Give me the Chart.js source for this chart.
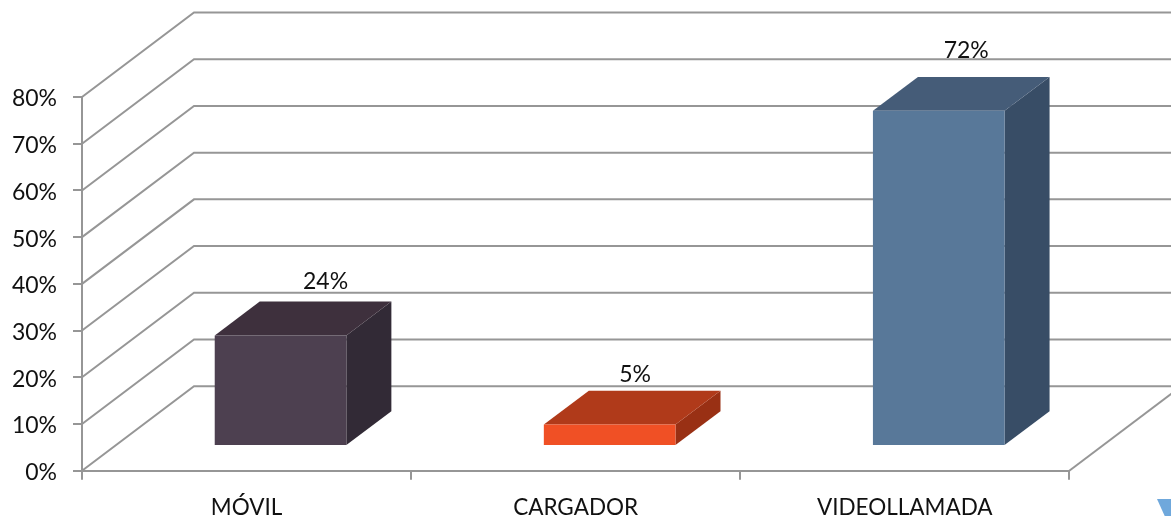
<!DOCTYPE html>
<html><head><meta charset="utf-8">
<style>
html,body{margin:0;padding:0;background:#fff;overflow:hidden}
#wrap{position:relative;width:1171px;height:516px}
canvas{display:block}
#mark{position:absolute;left:1157px;top:499px;width:14px;height:17px;background:#6fa8dc;clip-path:polygon(0 0,100% 0,100% 100%,55% 100%)}
</style>
<script src="https://cdn.jsdelivr.net/npm/chart.js@4/dist/chart.umd.min.js"></script>
</head><body>
<div id="wrap"><canvas id="c" width="1171" height="516"></canvas><div id="mark"></div></div>
<script>
const categories = ['MÓVIL','CARGADOR','VIDEOLLAMADA'];
const values = [23.7, 4.6, 71.8];
const frontColors = ['#4d4050','#f05025','#587899'];
const topColors = ['#3e303d','#b03a1a','#455c78'];
const sideColors = ['#322a36','#993014','#384d66'];
const yTicks = [0,10,20,30,40,50,60,70,80];

const GRID = '#969696', TEXT = '#111', FONT = 'Lato';
const wall = {dx:112, dy:-84.5};
const shift = {dx:34, dy:-24.6};
const depth = {dx:45, dy:-33.8};
const labelOffset = [{dx:45,dy:-20},{dx:25.5,dy:-16},{dx:27.5,dy:-26}];

function poly(ctx, pts, fill){
  ctx.beginPath();
  pts.forEach((p,i)=> i? ctx.lineTo(p[0],p[1]) : ctx.moveTo(p[0],p[1]));
  ctx.closePath();
  ctx.fillStyle = fill;
  ctx.fill();
}
const box3d = {
  id:'box3d',
  beforeDatasetsDraw(chart){
    const {ctx, scales:{x,y}, chartArea:a} = chart;
    ctx.save();
    ctx.strokeStyle = GRID;
    ctx.lineWidth = 2;
    yTicks.forEach(v=>{
      const py = y.getPixelForValue(v);
      ctx.beginPath();
      ctx.moveTo(a.left, py);
      ctx.lineTo(a.left+wall.dx, py+wall.dy);
      ctx.lineTo(chart.width+2, py+wall.dy);
      ctx.stroke();
    });
    const y0 = y.getPixelForValue(0);
    ctx.beginPath();
    ctx.moveTo(a.right, y0);
    ctx.lineTo(a.right+wall.dx, y0+wall.dy);
    ctx.stroke();
    ctx.restore();
    // the library's own bars are drawn moved onto the floor of the box
    ctx.save();
    ctx.translate(shift.dx, shift.dy);
    chart.getDatasetMeta(0).data.forEach((el,i)=>{
      const p = el.getProps(['x','y','base','width'], true);
      const l = p.x-p.width/2, r = p.x+p.width/2;
      poly(ctx, [[r,p.y],[r+depth.dx,p.y+depth.dy],[r+depth.dx,p.base+depth.dy],[r,p.base]], sideColors[i]);
      poly(ctx, [[l,p.y],[l+depth.dx,p.y+depth.dy],[r+depth.dx,p.y+depth.dy],[r,p.y]], topColors[i]);
    });
  },
  afterDatasetsDraw(chart){
    const {ctx} = chart;
    ctx.restore();
    ctx.save();
    ctx.font = '23px '+FONT;
    ctx.fillStyle = TEXT;
    ctx.textAlign = 'center';
    ctx.textBaseline = 'middle';
    chart.getDatasetMeta(0).data.forEach((el,i)=>{
      const p = el.getProps(['x','y'], true);
      const o = labelOffset[i];
      ctx.fillText(Math.round(values[i])+'%', p.x+shift.dx+o.dx, p.y+shift.dy+depth.dy+o.dy);
    });
    ctx.restore();
  }
};

new Chart(document.getElementById('c'), {
  type:'bar',
  data:{labels:categories, datasets:[{
    data:values,
    backgroundColor:frontColors,
    borderWidth:0,
    barPercentage:1,
    categoryPercentage:0.4,
    clip:false
  }]},
  options:{
    responsive:false,
    animation:false,
    devicePixelRatio:1,
    layout:{padding:{top:97,right:101.7,left:0,bottom:0}},
    plugins:{legend:{display:false},title:{display:false},tooltip:{enabled:false}},
    scales:{
      x:{
        grid:{offset:true,drawOnChartArea:false,color:GRID,lineWidth:2,tickLength:9,tickColor:GRID},
        border:{color:GRID,width:2},
        ticks:{color:TEXT,font:{family:FONT,size:22.5},padding:15,maxRotation:0,autoSkip:false},
        afterFit(s){s.height=45.3;}
      },
      y:{
        min:0,max:80,
        grid:{drawOnChartArea:false,color:GRID,lineWidth:2,tickLength:9,tickColor:GRID},
        border:{color:GRID,width:2},
        ticks:{color:TEXT,font:{family:FONT,size:23},padding:16,labelOffset:2,stepSize:10,callback:v=>v+'%'},
        afterFit(s){s.width=82;}
      }
    }
  },
  plugins:[box3d]
});
</script>
</body></html>
